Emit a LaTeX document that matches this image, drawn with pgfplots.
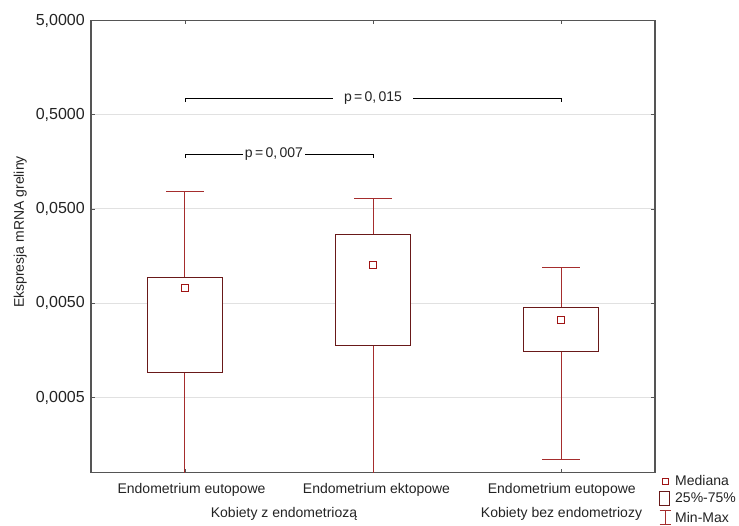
\documentclass[border=0pt]{standalone}
\usepackage{pgfplots}
\pgfplotsset{compat=1.18}
\usepackage{fontspec}
\setmainfont{Liberation Sans}
\definecolor{boxc}{RGB}{105,25,25}
\definecolor{whc}{RGB}{165,45,45}
\definecolor{medc}{RGB}{160,20,20}
\definecolor{axc}{RGB}{85,85,85}
\definecolor{gridc}{RGB}{225,225,225}
\definecolor{txt}{RGB}{35,35,35}
\newcommand{\sm}{\fontsize{14}{16}\selectfont}
\begin{document}
\begin{tikzpicture}
\path[use as bounding box] (-91pt,-52.5pt) rectangle (648pt,472.5pt);
\begin{axis}[
  at={(0,0)}, anchor=south west,
  scale only axis, width=564pt, height=452pt,
  ymode=log, ymin=0.00008, ymax=5,
  xmin=-0.5, xmax=2.5,
  xtick={0,1,2}, xticklabels={},
  ytick={0.0005,0.005,0.05,0.5,5},
  yticklabels={{0,0005},{0,0050},{0,0500},{0,5000},{5,0000}},
  minor y tick style={draw=none},
  yticklabel style={font=\fontsize{16}{18}\selectfont, text=txt, xshift=-2.7pt},
  axis line style={axc, line width=1.2pt},
  tick style={axc, line width=0.8pt},
  major tick length=4pt,
  tick align=inside,
  ymajorgrids,
  major grid style={gridc, line width=1pt},
  legend style={at={(1,0)}, anchor=north west, xshift=4pt, yshift=-3pt,
    draw=none, fill=none, inner sep=0pt, row sep=4pt, column sep=4pt,
    nodes={inner sep=0pt, font=\sm, text=txt}},
  legend cell align=left,
  line join=miter,
]
% whiskers (min to max)
\addplot[whc, line width=1pt, forget plot] coordinates {(0,0.00003) (0,0.0773)};
\addplot[whc, line width=1pt, forget plot] coordinates {(1,0.00003) (1,0.064)};
\addplot[whc, line width=1pt, forget plot] coordinates {(2,0.000110) (2,0.01194)};
% caps
\addplot[whc, line width=1pt, forget plot] coordinates {(-0.1,0.0773) (0.1,0.0773)};
\addplot[whc, line width=1pt, forget plot] coordinates {(0.9,0.064) (1.1,0.064)};
\addplot[whc, line width=1pt, forget plot] coordinates {(1.9,0.01194) (2.1,0.01194)};
\addplot[whc, line width=1pt, forget plot] coordinates {(1.9,0.000110) (2.1,0.000110)};
% boxes (25%-75%)
\addplot[boxc, line width=1pt, fill=white, forget plot] coordinates {(-0.2,0.000925) (0.2,0.000925) (0.2,0.00935) (-0.2,0.00935) (-0.2,0.000925)};
\addplot[boxc, line width=1pt, fill=white, forget plot] coordinates {(0.8,0.0018) (1.2,0.0018) (1.2,0.02674) (0.8,0.02674) (0.8,0.0018)};
\addplot[boxc, line width=1pt, fill=white, forget plot] coordinates {(1.8,0.00153) (2.2,0.00153) (2.2,0.00449) (1.8,0.00449) (1.8,0.00153)};
% medians
\addplot[only marks, mark=square*, mark size=3.5pt, medc, forget plot,
  mark options={line width=1pt, fill=white}] coordinates {(0,0.00733) (1,0.01276) (2,0.0033)};
% significance brackets
\addplot[black, line width=0.8pt, forget plot] coordinates {(0,0.68) (0,0.75) (2,0.75) (2,0.68)};
\addplot[black, line width=0.8pt, forget plot] coordinates {(0,0.174) (0,0.192) (1,0.192) (1,0.174)};
\node[fill=white, inner xsep=11pt, inner ysep=1pt, font=\sm, text=txt] at (axis cs:1.0,0.75) {p\,=\,0,\,015};
\node[fill=white, inner xsep=2pt, inner ysep=1pt, font=\sm, text=txt] at (axis cs:0.473,0.192) {p\,=\,0,\,007};
% legend
\addlegendimage{legend image code/.code={\draw[medc, line width=1pt, fill=white] (2.5pt,-3pt) rectangle (8.5pt,3pt);}}
\addlegendentry{Mediana}
\addlegendimage{legend image code/.code={\draw[boxc, line width=1pt, fill=white] (0pt,-7pt) rectangle (10pt,7pt);}}
\addlegendentry{25\%-75\%}
\addlegendimage{legend image code/.code={\draw[whc, line width=1pt] (5.5pt,-7pt) -- (5.5pt,7pt) (0pt,7pt) -- (11pt,7pt) (0pt,-7pt) -- (11pt,-7pt);}}
\addlegendentry{Min-Max}
\end{axis}
% category and group labels
\begin{scope}[every node/.style={font=\sm, text=txt, anchor=base, inner sep=0pt}]
\node at (100.5pt,-20.8pt) {Endometrium eutopowe};
\node at (285.5pt,-20.8pt) {Endometrium ektopowe};
\node at (470.8pt,-20.8pt) {Endometrium eutopowe};
\node at (193pt,-44.8pt) {Kobiety z endometriozą};
\node at (470.5pt,-44.8pt) {Kobiety bez endometriozy};
\node[rotate=90] at (-67pt,240.5pt) {Ekspresja mRNA greliny};
\end{scope}
\end{tikzpicture}
\end{document}
